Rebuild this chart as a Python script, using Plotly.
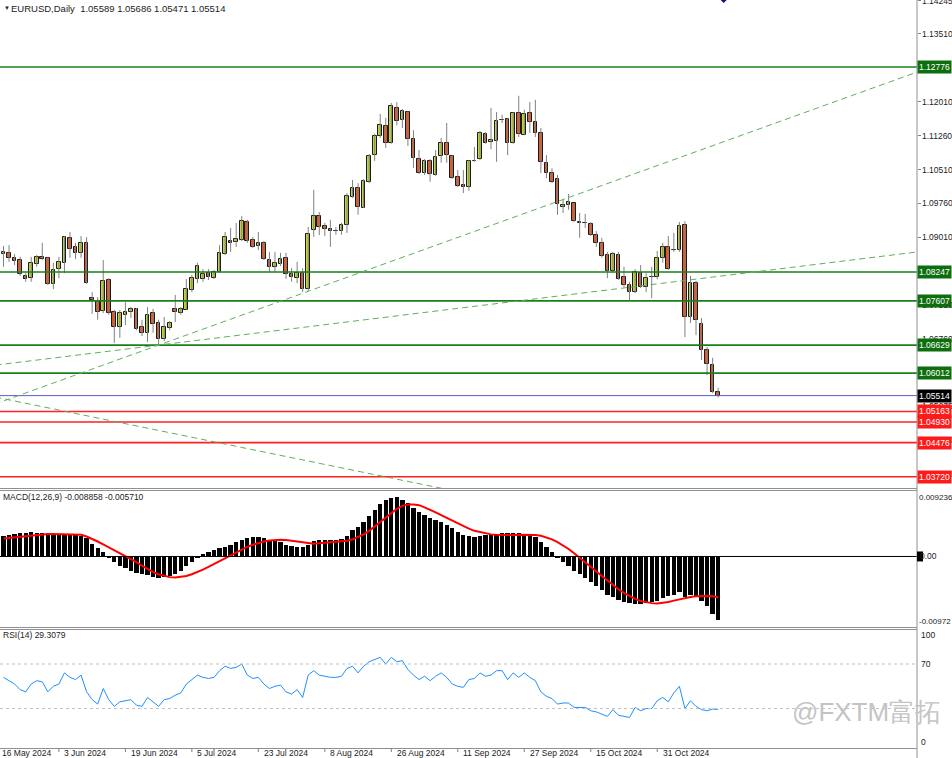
import plotly.graph_objects as go
import pandas as pd

W, H = 952, 758

# ---------------- data ----------------
dates = [d.strftime('%Y-%m-%d') for d in pd.bdate_range('2024-05-17', '2024-11-14')]

opens = [1.0864,1.0867,1.0856,1.0851,1.0816,1.0811,1.0842,1.0858,1.0856,1.0798,
         1.0831,1.0845,1.0900,1.0880,1.0867,1.0889,1.0767,1.0761,1.0738,1.0807,
         1.0736,1.0703,1.0730,1.0736,1.0743,1.0703,1.0690,1.0734,1.0712,1.0677,
         1.0701,1.0743,1.0734,1.0741,1.0785,1.0809,1.0809,1.0822,1.0811,1.0825,
         1.0864,1.0893,1.0891,1.0895,1.0935,1.0895,1.0882,1.0889,1.0851,1.0836,
         1.0842,1.0856,1.0820,1.0811,1.0822,1.0787,1.0917,1.0948,1.0926,1.0920,
         1.0916,1.0915,1.0929,1.0990,1.1010,1.0966,1.1024,1.1083,1.1125,1.1147,
         1.1110,1.1187,1.1161,1.1178,1.1119,1.1074,1.1043,1.1070,1.1039,1.1081,
         1.1110,1.1081,1.1035,1.1017,1.1012,1.1070,1.1074,1.1130,1.1112,1.1114,
         1.1160,1.1163,1.1110,1.1176,1.1127,1.1176,1.1156,1.1132,1.1065,1.1043,
         1.1030,1.0968,1.0973,1.0977,1.0935,1.0933,1.0931,1.0906,1.0889,1.0862,
         1.0827,1.0862,1.0814,1.0796,1.0780,1.0822,1.0791,1.0813,1.0813,1.0856,
         1.0880,1.0873,1.0873,1.0929,1.0725,1.0800,1.0710,1.0652,1.0619,1.05589]
highs = [1.0882,1.0884,1.0864,1.0858,1.0822,1.0858,1.0862,1.0889,1.0858,1.0845,
         1.0858,1.0904,1.0913,1.0889,1.0904,1.0902,1.0780,1.0769,1.0851,1.0811,
         1.0741,1.0741,1.0758,1.0747,1.0745,1.0719,1.0747,1.0743,1.0719,1.0725,
         1.0716,1.0774,1.0747,1.0809,1.0818,1.0845,1.0831,1.0831,1.0829,1.0884,
         1.0913,1.0922,1.0933,1.0948,1.0940,1.0902,1.0913,1.0893,1.0869,1.0869,
         1.0867,1.0867,1.0833,1.0847,1.0833,1.0924,1.1006,1.0957,1.0933,1.0940,
         1.0924,1.0933,1.0999,1.1028,1.1021,1.1030,1.1085,1.1130,1.1174,1.1165,
         1.1198,1.1200,1.1185,1.1180,1.1138,1.1094,1.1074,1.1074,1.1094,1.1121,
         1.1154,1.1083,1.1050,1.1050,1.1072,1.1101,1.1136,1.1134,1.1187,1.1178,
         1.1172,1.1165,1.1178,1.1214,1.1183,1.1200,1.1205,1.1143,1.1083,1.1054,
         1.1039,1.0986,1.0997,1.0977,1.0955,1.0953,1.0935,1.0915,1.0900,1.0869,
         1.0869,1.0869,1.0836,1.0803,1.0831,1.0840,1.0822,1.0836,1.0871,1.0889,
         1.0904,1.0911,1.0935,1.0937,1.0816,1.0805,1.0723,1.0659,1.0635,1.05686]
lows = [1.0836,1.0847,1.0840,1.0816,1.0803,1.0803,1.0836,1.0851,1.0796,1.0787,
        1.0811,1.0822,1.0856,1.0853,1.0856,1.0798,1.0732,1.0719,1.0734,1.0730,
        1.0668,1.0679,1.0707,1.0723,1.0696,1.0683,1.0670,1.0690,1.0663,1.0672,
        1.0696,1.0714,1.0730,1.0741,1.0780,1.0800,1.0803,1.0807,1.0809,1.0822,
        1.0862,1.0869,1.0880,1.0893,1.0889,1.0878,1.0873,1.0851,1.0825,1.0825,
        1.0838,1.0809,1.0803,1.0800,1.0780,1.0783,1.0902,1.0906,1.0904,1.0880,
        1.0907,1.0907,1.0911,1.0988,1.0951,1.0966,1.1021,1.1070,1.1121,1.1099,
        1.1108,1.1149,1.1143,1.1103,1.1054,1.1041,1.1039,1.1024,1.1037,1.1066,
        1.1066,1.1030,1.1012,1.0999,1.1004,1.1068,1.1072,1.1108,1.1096,1.1068,
        1.1154,1.1083,1.1108,1.1123,1.1127,1.1132,1.1123,1.1043,1.1032,1.1021,
        1.0951,1.0955,1.0962,1.0935,1.0900,1.0922,1.0904,1.0880,1.0856,1.0811,
        1.0825,1.0807,1.0791,1.0761,1.0778,1.0789,1.0780,1.0767,1.0809,1.0845,
        1.0829,1.0869,1.0869,1.0681,1.0712,1.0685,1.0630,1.0597,1.0557,1.05471]
closes = [1.0869,1.0856,1.0849,1.0820,1.0809,1.0845,1.0858,1.0853,1.0798,1.0829,
          1.0847,1.0902,1.0875,1.0867,1.0889,1.0800,1.0763,1.0736,1.0805,1.0734,
          1.0703,1.0734,1.0736,1.0743,1.0699,1.0690,1.0730,1.0710,1.0677,1.0703,
          1.0712,1.0736,1.0743,1.0787,1.0811,1.0838,1.0820,1.0814,1.0825,1.0867,
          1.0902,1.0889,1.0898,1.0937,1.0893,1.0880,1.0889,1.0853,1.0836,1.0845,
          1.0853,1.0820,1.0814,1.0822,1.0787,1.0909,1.0948,1.0924,1.0920,1.0915,
          1.0915,1.0929,1.0993,1.1010,1.0968,1.1026,1.1081,1.1125,1.1149,1.1110,
          1.1191,1.1158,1.1180,1.1119,1.1077,1.1043,1.1070,1.1041,1.1079,1.1110,
          1.1083,1.1032,1.1015,1.1012,1.1070,1.1071,1.1132,1.1110,1.1116,1.1158,
          1.1161,1.1110,1.1176,1.1130,1.1174,1.1156,1.1132,1.1068,1.1043,1.1024,
          1.0975,1.0973,1.0979,1.0937,1.0933,1.0932,1.0906,1.0889,1.0860,1.0827,
          1.0864,1.0809,1.0796,1.0780,1.0825,1.0791,1.0811,1.0814,1.0856,1.0880,
          1.0831,1.0874,1.0926,1.0725,1.0800,1.0719,1.0652,1.0621,1.0559,1.05514]

macd_main = [2.81,2.95,3.09,3.23,3.23,3.37,3.23,3.23,3.09,2.95,
             2.95,3.09,3.09,2.95,2.81,2.53,1.82,1.12,0.56,-0.10,
             -0.84,-1.40,-1.68,-1.97,-2.25,-2.53,-2.67,-2.95,-3.09,-2.95,
             -2.81,-2.53,-1.97,-1.40,-0.84,-0.28,0.28,0.56,0.84,1.12,
             1.40,1.68,1.97,2.25,2.53,2.67,2.67,2.53,2.25,2.11,
             1.97,1.68,1.54,1.40,1.26,1.68,2.11,2.25,2.25,2.25,
             2.25,2.39,2.81,3.65,4.07,4.77,5.62,6.46,7.30,7.86,
             8.14,8.28,7.86,7.44,6.74,6.18,5.76,5.34,5.05,4.77,
             4.35,3.93,3.37,2.95,2.81,2.67,2.81,2.95,2.95,3.09,
             3.23,3.23,3.23,3.23,3.09,2.95,2.67,1.97,1.26,0.56,
             -0.28,-0.84,-1.40,-1.97,-2.53,-3.09,-3.65,-4.21,-4.77,-5.34,
             -5.62,-6.04,-6.32,-6.60,-6.74,-6.74,-6.60,-6.46,-6.18,-5.76,
             -5.48,-5.34,-5.05,-5.62,-5.34,-5.62,-6.18,-7.02,-8.14,-8.858]
macd_signal = [2.53,2.60,2.70,2.80,2.90,2.95,3.05,3.10,3.15,3.15,
               3.15,3.10,3.10,3.05,3.05,2.80,2.50,2.10,1.70,1.30,
               0.90,0.50,0.10,-0.35,-0.80,-1.30,-1.80,-2.20,-2.50,-2.75,
               -2.90,-2.95,-2.90,-2.75,-2.50,-2.20,-1.85,-1.45,-1.05,-0.60,
               -0.20,0.25,0.65,1.00,1.35,1.65,1.90,2.10,2.25,2.35,
               2.35,2.30,2.20,2.05,1.90,1.80,1.80,1.85,1.90,1.95,
               2.00,2.10,2.20,2.40,2.70,3.10,3.60,4.20,4.90,5.50,
               6.10,6.70,7.10,7.30,7.30,7.20,6.90,6.60,6.20,5.80,
               5.40,5.00,4.60,4.20,3.90,3.60,3.40,3.20,3.10,3.05,
               3.00,3.00,3.00,3.05,3.05,3.05,3.00,2.90,2.70,2.40,
               2.00,1.55,1.05,0.45,-0.15,-0.80,-1.45,-2.10,-2.75,-3.40,
               -4.00,-4.60,-5.10,-5.55,-5.95,-6.25,-6.45,-6.55,-6.60,-6.55,
               -6.40,-6.20,-6.00,-5.85,-5.70,-5.60,-5.55,-5.55,-5.60,-5.710]
rsi = [58,55,52,47,45,52,55,54,45,50,
       52,62,58,56,60,45,38,34,48,38,
       32,36,37,38,33,32,40,36,32,38,
       39,42,44,52,56,60,58,57,58,64,
       68,66,67,70,60,57,58,52,48,50,
       51,45,43,47,40,60,64,60,59,58,
       58,59,66,68,62,68,72,74,76,70,
       76,72,73,65,60,56,59,55,59,62,
       58,52,50,49,56,57,62,59,60,64,
       64,56,62,58,62,58,55,45,41,39,
       34,35,35,31,31,31,28,27,25,23,
       29,24,23,22,31,28,30,30,37,40,
       36,44,50,30,37,32,29,28,29.5,29.3079]

date_labels = ['16 May 2024', '3 Jun 2024', '19 Jun 2024', '5 Jul 2024', '23 Jul 2024',
               '8 Aug 2024', '26 Aug 2024', '11 Sep 2024', '27 Sep 2024', '15 Oct 2024', '31 Oct 2024']
date_label_pos = [-1, 11, 23, 35, 47, 59, 71, 83, 95, 107, 119]

price_ticks = [1.14245, 1.13510, 1.12010, 1.11260, 1.10510, 1.09760, 1.09010,
               1.07510, 1.06760, 1.05275, 1.04540, 1.03790]
green_levels = [1.12776, 1.08247, 1.07607, 1.06629, 1.06012]
red_levels = [1.05163, 1.04930, 1.04476, 1.03720]
bid_level = 1.05514

# trend lines as (index, price) anchor pairs
trend_lines = [
    [(28, 1.0663), (55, 1.0782)],
    [(28, 1.0663), (164.89, 1.08688)],
    [(-0.632, 1.05461), (78.8, 1.03472)],
]
# object marker at top of chart (index, price)
arrow_obj = (129.7, 1.1432)

macd_vals = [v / 1000 for v in macd_main]
sig_vals = [v / 1000 for v in macd_signal]

# ---------------- layout helpers ----------------
AX = 917 / W
def py(p):
    return 1 - p / H
def px(p):
    return p / W

BULL = '#c4d62c'
BEAR = '#e8561e'
FONT = 'Liberation Sans, Arial, sans-serif'

fig = go.Figure()

# wicks
wx, wy = [], []
for d, lo, hi in zip(dates, lows, highs):
    wx += [d, d, None]
    wy += [lo, hi, None]
fig.add_trace(go.Scatter(x=wx, y=wy, mode='lines', line=dict(color='#808080', width=1),
                         xaxis='x', yaxis='y', hoverinfo='skip', showlegend=False))
# bodies
base = [min(o, c) for o, c in zip(opens, closes)]
hgt = [max(abs(c - o), 0.00005) for o, c in zip(opens, closes)]
cols = [BULL if c >= o else BEAR for o, c in zip(opens, closes)]
fig.add_trace(go.Bar(x=dates, y=hgt, base=base, width=0.66,
                     marker=dict(color=cols, line=dict(color='#1a1a1a', width=1)),
                     xaxis='x', yaxis='y', hoverinfo='skip', showlegend=False))
fig.add_trace(go.Scatter(x=[arrow_obj[0]], y=[arrow_obj[1]], mode='markers',
                         marker=dict(symbol='diamond', size=9, color='#101080'),
                         xaxis='x', yaxis='y', hoverinfo='skip', showlegend=False, cliponaxis=True))

# MACD
fig.add_trace(go.Bar(x=dates, y=macd_vals, width=0.78, marker=dict(color='black', line=dict(width=0)),
                     xaxis='x2', yaxis='y2', showlegend=False, hoverinfo='skip'))
fig.add_trace(go.Scatter(x=dates, y=sig_vals, mode='lines', line=dict(color='#ff0000', width=2),
                         xaxis='x2', yaxis='y2', showlegend=False, hoverinfo='skip'))
# RSI
fig.add_trace(go.Scatter(x=dates, y=rsi, mode='lines', line=dict(color='#1e90ff', width=1),
                         xaxis='x3', yaxis='y3', showlegend=False, hoverinfo='skip'))

shapes = []
for lv in green_levels:
    shapes.append(dict(type='line', xref='paper', yref='y', x0=0, x1=AX, y0=lv, y1=lv,
                       line=dict(color='#1a7f1a', width=1.6)))
for lv in red_levels:
    shapes.append(dict(type='line', xref='paper', yref='y', x0=0, x1=AX, y0=lv, y1=lv,
                       line=dict(color='#ff2020', width=1.6)))
shapes.append(dict(type='line', xref='paper', yref='y', x0=0, x1=AX, y0=bid_level, y1=bid_level,
                   line=dict(color='#5a5acd', width=1)))
for (x0, y0), (x1, y1) in trend_lines:
    s = (y1 - y0) / (x1 - x0)
    xa, xb = -5, 170
    shapes.append(dict(type='line', xref='x', yref='y', x0=xa, x1=xb,
                       y0=y0 + s * (xa - x0), y1=y0 + s * (xb - x0),
                       line=dict(color='#5faf5f', width=1, dash='6px,4px')))
shapes.append(dict(type='line', xref='paper', yref='y2', x0=0, x1=AX, y0=0, y1=0,
                   line=dict(color='black', width=1)))
for lv in [70, 30]:
    shapes.append(dict(type='line', xref='paper', yref='y3', x0=0, x1=AX, y0=lv, y1=lv,
                       line=dict(color='#c0c0c0', width=1, dash='dot')))
for p in [488.5, 490.5, 627.5, 629.5, 748.5]:
    shapes.append(dict(type='line', xref='paper', yref='paper', x0=0, x1=AX, y0=py(p), y1=py(p),
                       line=dict(color='#909090', width=1)))
shapes.append(dict(type='line', xref='paper', yref='paper', x0=AX, x1=AX, y0=py(758), y1=1,
                   line=dict(color='#909090', width=1)))
for k in date_label_pos[1:]:
    shapes.append(dict(type='line', xref='x3', yref='paper', x0=k - 1.0, x1=k - 1.0, y0=py(749), y1=py(752),
                       line=dict(color='#808080', width=1)))
shapes.append(dict(type='rect', xref='paper', yref='y2', x0=px(917), x1=px(923), y0=-0.0007, y1=0.0007,
                   fillcolor='black', line=dict(width=0)))

ann = []
def label(x, y, text, size=8.5, color='#222', xanchor='left', yanchor='middle', **kw):
    d = dict(x=x, y=y, text=text, showarrow=False, xanchor=xanchor, yanchor=yanchor,
             font=dict(family=FONT, size=size, color=color))
    d.update(kw)
    return d

ann.append(label(px(2), py(8), '▼', size=6, color='#222', xref='paper', yref='paper'))
ann.append(label(px(9), py(8), 'EURUSD,Daily  1.05589 1.05686 1.05471 1.05514', size=9.5,
                 xref='paper', yref='paper'))
ann.append(label(px(1), py(497), 'MACD(12,26,9) -0.008858 -0.005710', xref='paper', yref='paper'))
ann.append(label(px(1), py(635), 'RSI(14) 29.3079', xref='paper', yref='paper'))

for t in price_ticks:
    ann.append(label(px(920), t, f'{t:.5f}', xref='paper', yref='y'))
for lv in green_levels:
    ann.append(label(px(917), lv, f'{lv:.5f}', color='white', xref='paper', yref='y',
                     bgcolor='#0d6e0d', borderpad=1))
for lv in red_levels:
    ann.append(label(px(917), lv, f'{lv:.5f}', color='white', xref='paper', yref='y',
                     bgcolor='#ff1a1a', borderpad=1))
ann.append(label(px(917), bid_level, f'{bid_level:.5f}', color='white', xref='paper', yref='y',
                 bgcolor='#000000', borderpad=1))
ann.append(label(px(917), py(497), '0.009236', size=8, xref='paper', yref='paper'))
ann.append(label(px(918), 0, '0.00', xref='paper', yref='y2'))
ann.append(label(px(917), py(621), '-0.00972', size=8, xref='paper', yref='paper'))
ann.append(label(px(919), py(635), '100', xref='paper', yref='paper'))
ann.append(label(px(919), 70, '70', xref='paper', yref='y3'))
ann.append(label(px(919), py(742), '0', xref='paper', yref='paper'))
ann.append(label(0, py(753), date_labels[0], size=8.5, xref='paper', yref='paper'))
for k, t in zip(date_label_pos[1:], date_labels[1:]):
    ann.append(label(k, py(753), t, size=8.5, xref='x3', yref='paper', xshift=-2))
ann.append(label(px(790), py(712), '@FXTM富拓', size=26, color='#c4c4c4',
                 xref='paper', yref='paper'))

xcommon = dict(type='category', range=[-0.632, 164.89], showticklabels=False, showgrid=False,
               zeroline=False, showline=False, ticks='', domain=[0, AX], fixedrange=True)
fig.update_layout(
    width=W, height=H, margin=dict(l=0, r=0, t=0, b=0),
    paper_bgcolor='white', plot_bgcolor='white', barmode='overlay', bargap=0,
    showlegend=False,
    xaxis=dict(anchor='y', **xcommon),
    xaxis2=dict(anchor='y2', matches='x', **xcommon),
    xaxis3=dict(anchor='y3', matches='x', **xcommon),
    yaxis=dict(domain=[py(488), 1], range=[1.14257 - 0.000221 * 488, 1.14257], side='right',
               showgrid=False, zeroline=False, showticklabels=False,
               tickvals=price_ticks, ticks='outside', ticklen=3, tickcolor='#808080'),
    yaxis2=dict(domain=[py(627), py(490)], range=[-0.00990, 0.00933], side='right',
                showgrid=False, zeroline=False, showticklabels=False),
    yaxis3=dict(domain=[py(748), py(629)], range=[-5.4, 101.4], side='right',
                showgrid=False, zeroline=False, showticklabels=False),
    shapes=shapes, annotations=ann,
)

fig.write_html('out.html', config={'displayModeBar': False},
               post_script="document.body.style.margin='0';document.body.style.overflow='hidden';")
